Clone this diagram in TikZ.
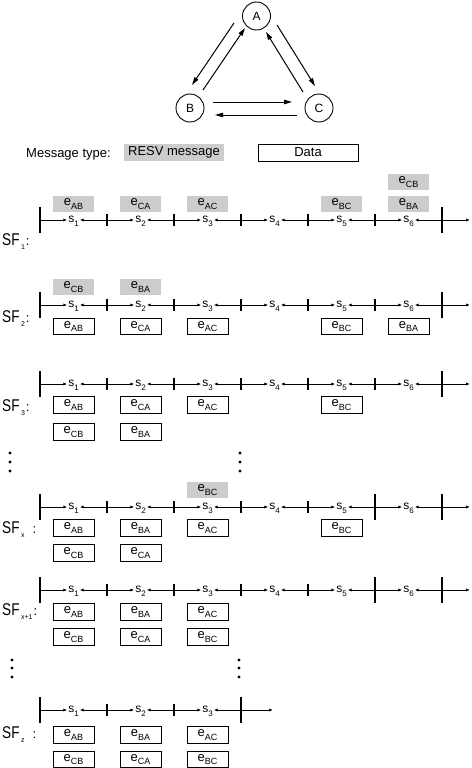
\documentclass[tikz,border=0pt]{standalone}
\usepackage{fontspec}
\setmainfont{Liberation Sans}
\usepackage{tikz}
\usetikzlibrary{arrows.meta,positioning,calc}
\definecolor{resvgray}{gray}{0.8}
\newcommand{\sub}[2][9]{\raisebox{-0.3em}{\fontsize{#1}{#1}\selectfont #2}}
\newcommand{\msg}[1]{e\sub{#1}}
\newcommand{\sflabel}[2]{\scalebox{0.8}[1]{\fontsize{17}{17}\selectfont SF}\hspace{1.5pt}\sub[7]{#1}\hspace{1pt}#2}
% one superframe: #1 name, #2 y, #3 slots, #4 end x, #5 tall ticks
\newcommand{\timeline}[5]{%
  \foreach \i in {0,...,#3} \coordinate (#1t\i) at (40+67*\i,#2);
  \foreach \i [remember=\i as \j (initially 0)] in {1,...,#3} {
    \coordinate (#1m\i) at ($(#1t\j)!0.5!(#1t\i)$);
    \node[slot] (#1s\i) at (#1m\i) {s\sub[8]{\i}};
    \draw[tip] (#1t\j) -- (#1s\i.mid west);
    \draw[tip] (#1t\i) -- (#1s\i.mid east);
    \draw[mintick] ([shift={(0,-6)}]#1t\i) -- ([shift={(0,6)}]#1t\i);
  }
  \coordinate (#1end) at (#4,#2);
  \draw[tip] (#1t#3) -- (#1end);
  \foreach \k in {#5} \draw[majtick] ([shift={(0,-13)}]#1t\k) -- ([shift={(0,13)}]#1t\k);
}

\begin{document}
\begin{tikzpicture}[
  x=1pt, y=-1pt,
  font=\fontsize{13}{15}\selectfont,
  station/.style={draw, circle, line width=0.9pt, minimum size=28pt, inner sep=0pt, font=\fontsize{12}{14}\selectfont},
  flow/.style={-{Triangle[length=8pt, width=4.5pt]}, line width=1pt},
  resv/.style={fill=resvgray, minimum width=41pt, minimum height=16.5pt, inner sep=0pt},
  data/.style={draw, line width=0.8pt, minimum width=41pt, minimum height=16.5pt, inner sep=0pt},
  slot/.style={anchor=mid, inner sep=0.8pt, font=\fontsize{12}{13}\selectfont},
  tip/.style={-{Latex[length=4pt, width=3.2pt]}, line width=0.9pt},
  mintick/.style={line width=1.2pt},
  majtick/.style={line width=1.5pt},
  sflbl/.style={anchor=west, inner sep=0pt},
  dot/.style={fill=black}
]
  \useasboundingbox (0,0) rectangle (471,768);

  % three stations
  \node[station] (A) at (256.5,16) {A};
  \node[station] (B) at (190,108) {B};
  \node[station] (C) at (319,108) {C};
  \draw[flow] ([shift={(-22.5,7)}]A.center) -- ([shift={(2,-23)}]B.center);
  \draw[flow] ([shift={(13,-18)}]B.center) -- ([shift={(-11.5,12)}]A.center);
  \draw[flow] ([shift={(20.5,9)}]A.center) -- ([shift={(-4,-22)}]C.center);
  \draw[flow] ([shift={(-16,-16)}]C.center) -- ([shift={(9.5,16)}]A.center);
  \draw[flow] ([shift={(23,-6)}]B.center) -- ([shift={(-27,-6)}]C.center);
  \draw[flow] ([shift={(-22,7)}]C.center) -- ([shift={(25,7)}]B.center);

  % legend
  \node[anchor=base west, inner sep=0pt] (mtype) at (26,157) {Message type:};
  \node[resv, minimum width=100pt, minimum height=17pt] (lresv) at (174,152.5) {RESV message};
  \node[data, minimum width=100pt, minimum height=17pt] (ldata) at (308,152.5) {Data};

  % SF 1
  \timeline{r1}{220}{6}{470}{0,6}
  \node[sflbl] (r1lbl) at (2,242) {\sflabel{1}{:}};
  \node[resv] (r1a) at ([shift={(0,-16)}]r1m1) {\msg{AB}};
  \node[resv] (r1b) at ([shift={(0,-16)}]r1m2) {\msg{CA}};
  \node[resv] (r1c) at ([shift={(0,-16)}]r1m3) {\msg{AC}};
  \node[resv] (r1e) at ([shift={(0,-16)}]r1m5) {\msg{BC}};
  \node[resv] (r1f) at ([shift={(0,-16)}]r1m6) {\msg{BA}};
  \node[resv] (r1g) at ([shift={(0,-38)}]r1m6) {\msg{CB}};

  % SF 2
  \timeline{r2}{305}{6}{470}{0,6}
  \node[sflbl] (r2lbl) at (2,319) {\sflabel{2}{:}};
  \node[resv] (r2a) at ([shift={(0,-18)}]r2m1) {\msg{CB}};
  \node[resv] (r2b) at ([shift={(0,-18)}]r2m2) {\msg{BA}};
  \node[data] (r2d1) at ([shift={(0,21.5)}]r2m1) {\msg{AB}};
  \node[data] (r2d2) at ([shift={(0,21.5)}]r2m2) {\msg{CA}};
  \node[data] (r2d3) at ([shift={(0,21.5)}]r2m3) {\msg{AC}};
  \node[data] (r2d5) at ([shift={(0,21.5)}]r2m5) {\msg{BC}};
  \node[data] (r2d6) at ([shift={(0,21.5)}]r2m6) {\msg{BA}};

  % SF 3
  \timeline{r3}{384}{6}{470}{0,6}
  \node[sflbl] (r3lbl) at (2,408) {\sflabel{3}{:}};
  \node[data] (r3d1) at ([shift={(0,21)}]r3m1) {\msg{AB}};
  \node[data] (r3d2) at ([shift={(0,21)}]r3m2) {\msg{CA}};
  \node[data] (r3d3) at ([shift={(0,21)}]r3m3) {\msg{AC}};
  \node[data] (r3d5) at ([shift={(0,21)}]r3m5) {\msg{BC}};
  \node[data] (r3e1) at ([shift={(0,48)}]r3m1) {\msg{CB}};
  \node[data] (r3e2) at ([shift={(0,48)}]r3m2) {\msg{BA}};

  \foreach \y in {453,462,471} {
    \fill[dot] (10,\y) circle (1.6);
    \fill[dot] (240,\y) circle (1.6);
  }

  % SF x
  \timeline{r4}{507}{6}{470}{0,5,6}
  \node[sflbl] (r4lbl) at (2,530) {\sflabel{x}{\hspace{7pt}:}};
  \node[resv] (r4a) at ([shift={(0,-17)}]r4m3) {\msg{BC}};
  \node[data] (r4d1) at ([shift={(0,21)}]r4m1) {\msg{AB}};
  \node[data] (r4d2) at ([shift={(0,21)}]r4m2) {\msg{BA}};
  \node[data] (r4d3) at ([shift={(0,21)}]r4m3) {\msg{AC}};
  \node[data] (r4d5) at ([shift={(0,21)}]r4m5) {\msg{BC}};
  \node[data] (r4e1) at ([shift={(0,46)}]r4m1) {\msg{CB}};
  \node[data] (r4e2) at ([shift={(0,46)}]r4m2) {\msg{CA}};

  % SF x+1
  \timeline{r5}{590}{6}{470}{0,5,6}
  \node[sflbl] (r5lbl) at (2,612) {\sflabel{x+1}{:}};
  \node[data] (r5d1) at ([shift={(0,22)}]r5m1) {\msg{AB}};
  \node[data] (r5d2) at ([shift={(0,22)}]r5m2) {\msg{BA}};
  \node[data] (r5d3) at ([shift={(0,22)}]r5m3) {\msg{AC}};
  \node[data] (r5e1) at ([shift={(0,47)}]r5m1) {\msg{CB}};
  \node[data] (r5e2) at ([shift={(0,47)}]r5m2) {\msg{CA}};
  \node[data] (r5e3) at ([shift={(0,47)}]r5m3) {\msg{BC}};

  \foreach \y in {660,668,677} {
    \fill[dot] (12,\y) circle (1.6);
    \fill[dot] (239,\y) circle (1.6);
  }

  % SF z
  \timeline{r6}{710}{3}{273}{0,3}
  \node[sflbl] (r6lbl) at (2,735) {\sflabel{z}{\hspace{7pt}:}};
  \node[data] (r6d1) at ([shift={(0,25)}]r6m1) {\msg{AB}};
  \node[data] (r6d2) at ([shift={(0,25)}]r6m2) {\msg{BA}};
  \node[data] (r6d3) at ([shift={(0,25)}]r6m3) {\msg{AC}};
  \node[data] (r6e1) at ([shift={(0,49.5)}]r6m1) {\msg{CB}};
  \node[data] (r6e2) at ([shift={(0,49.5)}]r6m2) {\msg{CA}};
  \node[data] (r6e3) at ([shift={(0,49.5)}]r6m3) {\msg{BC}};
\end{tikzpicture}
\end{document}
